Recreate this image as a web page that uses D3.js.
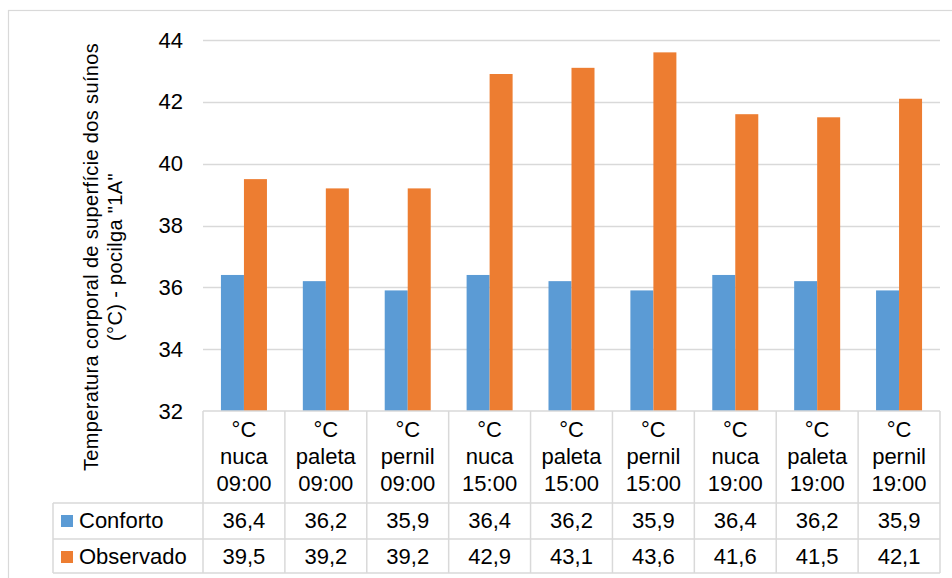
<!DOCTYPE html>
<html><head><meta charset="utf-8">
<script src="https://cdn.jsdelivr.net/npm/d3@7"></script>
<style>body{margin:0;background:#fff}svg{display:block;font-family:"Liberation Sans",Arial,sans-serif}</style>
</head><body>
<svg id="c" width="952" height="578"></svg>
<script>
const categories = [
  ["°C","nuca","09:00"],["°C","paleta","09:00"],["°C","pernil","09:00"],
  ["°C","nuca","15:00"],["°C","paleta","15:00"],["°C","pernil","15:00"],
  ["°C","nuca","19:00"],["°C","paleta","19:00"],["°C","pernil","19:00"]
];
const seriesNames = ["Conforto","Observado"];
const conforto = [36.4,36.2,35.9,36.4,36.2,35.9,36.4,36.2,35.9];
const observado = [39.5,39.2,39.2,42.9,43.1,43.6,41.6,41.5,42.1];
const yTicks = [32,34,36,38,40,42,44];
const yTitle = ["Temperatura corporal de superfície dos suínos", "(°C) - pocilga \"1A\""];
const colors = ["#5B9BD5","#ED7D31"];

const svg = d3.select("#c");
const L = 203, R = 940, T = 40, B = 411;
const legendLeft = 53, headerBottom = 503, row1Bottom = 539, tableBottom = 573;
const grid = "#D9D9D9";

// outer frame
svg.append("rect").attr("x",8.5).attr("y",10.5).attr("width",960).attr("height",600)
  .attr("fill","none").attr("stroke",grid).attr("stroke-width",1.2);

const y = d3.scaleLinear().domain([32,44]).range([B,T]);
const x0 = d3.scaleBand().domain(d3.range(categories.length)).range([L,R]).paddingInner(0).paddingOuter(0);
const x1 = d3.scaleBand().domain([0,1]).range([0,x0.bandwidth()]).paddingInner(0).paddingOuter(0.78);

// gridlines
svg.append("g").selectAll("line").data(yTicks.filter(t=>t>32)).join("line")
  .attr("x1",L).attr("x2",R).attr("y1",d=>Math.round(y(d))+0.5).attr("y2",d=>Math.round(y(d))+0.5)
  .attr("stroke",grid).attr("stroke-width",1.5);

// y tick labels
svg.append("g").selectAll("text").data(yTicks).join("text")
  .attr("x",183).attr("y",d=>y(d)+7.5).attr("text-anchor","end")
  .attr("font-size",22).attr("fill","#000").text(d=>d);

// bars
const series = [conforto, observado];
series.forEach((vals,si)=>{
  svg.append("g").selectAll("rect").data(vals).join("rect")
    .attr("x",(d,i)=>x0(i)+x1(si)).attr("width",x1.bandwidth())
    .attr("y",d=>y(d)).attr("height",d=>y(32)-y(d)).attr("fill",colors[si]);
});

// table lines
const tg = svg.append("g").attr("stroke",grid).attr("stroke-width",1.5);
const colEdges = d3.range(categories.length+1).map(i=> i<categories.length ? x0(i) : R);
colEdges.forEach(xe=>{
  tg.append("line").attr("x1",xe).attr("x2",xe).attr("y1",B).attr("y2",tableBottom);
});
tg.append("line").attr("x1",L).attr("x2",R).attr("y1",B).attr("y2",B);
tg.append("line").attr("x1",legendLeft).attr("x2",legendLeft).attr("y1",headerBottom).attr("y2",tableBottom);
[headerBottom,row1Bottom,tableBottom].forEach(yy=>{
  tg.append("line").attr("x1",legendLeft).attr("x2",R).attr("y1",yy).attr("y2",yy);
});

// header text
const hg = svg.append("g").attr("font-size",22).attr("text-anchor","middle").attr("fill","#000");
categories.forEach((c,i)=>{
  c.forEach((t,j)=>{
    hg.append("text").attr("x",x0(i)+x0.bandwidth()/2).attr("y",437+j*27).text(t);
  });
});

// data rows
const rowBase = [528, 564];
series.forEach((vals,si)=>{
  svg.append("g").attr("font-size",22).attr("text-anchor","middle").selectAll("text").data(vals).join("text")
    .attr("x",(d,i)=>x0(i)+x0.bandwidth()/2).attr("y",rowBase[si])
    .text(d=>d3.format(".1f")(d).replace(".",","));
  svg.append("rect").attr("x",61).attr("y",rowBase[si]-13).attr("width",12).attr("height",12).attr("fill",colors[si]);
  svg.append("text").attr("x",79).attr("y",rowBase[si]).attr("font-size",22).text(seriesNames[si]);
});

// y title
const cy = 257;
yTitle.forEach((t,i)=>{
  svg.append("text").attr("transform",`translate(${98+i*24},${cy}) rotate(-90)`)
    .attr("text-anchor","middle").attr("font-size",20).attr("letter-spacing",0.35).attr("fill","#000").text(t);
});
</script>
</body></html>
